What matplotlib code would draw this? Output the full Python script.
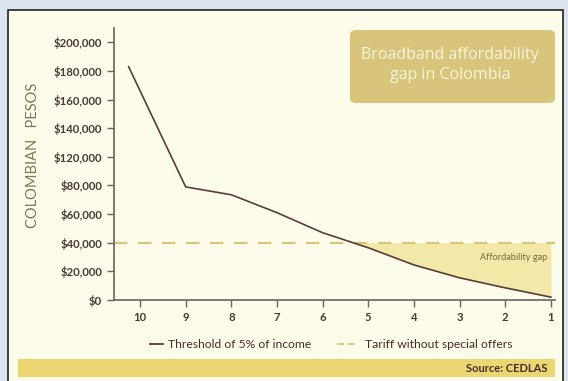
import matplotlib
matplotlib.use("Agg")
import matplotlib.pyplot as plt
from matplotlib.patches import Rectangle, FancyBboxPatch

# === Data ===
decile = [10.25, 9, 8, 7, 6, 5, 4, 3, 2, 1]
threshold = [163000, 79000, 73500, 61000, 47000, 36500, 24500, 15500, 8500, 2000]
tariff = 40000
x_ticks = [10, 9, 8, 7, 6, 5, 4, 3, 2, 1]
y_ticks = [0, 20000, 40000, 60000, 80000, 100000, 120000, 140000, 160000, 180000]
y_labels = ["$0", "$20,000", "$40,000", "$60,000", "$80,000", "$120,000",
            "$140,000", "$160,000", "$180,000", "$200,000"]

# === Colours ===
bg_outer = "#dce4ee"
bg_panel = "#fdfbea"
brown = "#5b3b3a"
axis_col = "#6e605a"
tan = "#d8c47a"
gap_fill = "#f2e9a8"
source_bar = "#ebd772"

plt.rcParams['font.family'] = ['Lato', 'DejaVu Sans']

fig = plt.figure(figsize=(5.68, 3.81), dpi=100)
fig.patch.set_facecolor(bg_outer)

W, H = 568, 381
def fx(px):
    return px / W
def fy(py):
    return 1 - py / H

# panel
fig.patches.append(Rectangle((fx(8), fy(390)), fx(563) - fx(8), fy(10) - fy(390),
                             transform=fig.transFigure, facecolor=bg_panel,
                             edgecolor="#222222", linewidth=1.2, zorder=0))
# source bar
fig.patches.append(Rectangle((fx(18), fy(377)), fx(555) - fx(18), fy(359) - fy(377),
                             transform=fig.transFigure, facecolor=source_bar,
                             edgecolor="none", zorder=1))
fig.text(fx(548), fy(368), "Source: CEDLAS", ha="right", va="center",
         fontsize=8, fontweight="bold", color="#4a2a2a")

ax = fig.add_axes([fx(114), fy(300), fx(555) - fx(114), fy(28) - fy(300)])
ax.set_facecolor("none")
ax.set_zorder(5)

ax.fill_between(decile, threshold, tariff,
                where=[t <= tariff for t in threshold], interpolate=True,
                color=gap_fill, linewidth=0, zorder=1)
ax.axhline(tariff, color=tan, linestyle=(0, (6, 4.8)), linewidth=1.6, zorder=2)
ax.plot(decile, threshold, color=brown, linewidth=1.2, zorder=3)

ax.set_xlim(10.57, 0.91)
ax.set_ylim(0, 190000)
ax.set_xticks(x_ticks)
ax.set_xticklabels([str(v) for v in x_ticks])
ax.set_yticks(y_ticks)
ax.set_yticklabels(y_labels)
ax.tick_params(axis="both", colors=axis_col, labelcolor="#4a3a36",
               labelsize=8.2, length=5, width=1)
for lab in ax.get_xticklabels() + ax.get_yticklabels():
    lab.set_fontweight("bold")
for side in ["top", "right"]:
    ax.spines[side].set_visible(False)
for side in ["left", "bottom"]:
    ax.spines[side].set_color(axis_col)
    ax.spines[side].set_linewidth(1.2)

ax.text(1.08, 29500, "Affordability gap", ha="right", va="center",
        fontsize=6.6, color="#7a6640")

fig.text(fx(33), fy(155), "COLOMBIAN   PESOS", rotation=90, ha="center",
         va="center", fontsize=10.5, color="#7e7856")

# title box
fig.patches.append(FancyBboxPatch((fx(350), fy(103)), fx(555) - fx(350), fy(30) - fy(103),
                                  boxstyle="round,pad=0,rounding_size=0.012",
                                  transform=fig.transFigure, facecolor=tan,
                                  edgecolor="none", zorder=2))
fig.text(fx(450), fy(65), "Broadband affordability\ngap in Colombia", ha="center",
         va="center", fontsize=11.5, color="#fbf5dc", linespacing=1.3,
         family=["Open Sans", "DejaVu Sans"], zorder=3)

# legend
fig.lines.append(plt.Line2D([fx(150), fx(163)], [fy(344), fy(344)],
                            transform=fig.transFigure, color=brown, linewidth=1.3))
fig.text(fx(168), fy(344), "Threshold of 5% of income", ha="left", va="center",
         fontsize=8.7, color="#4a2a2a")
fig.lines.append(plt.Line2D([fx(337), fx(357)], [fy(344), fy(344)],
                            transform=fig.transFigure, color=tan, linewidth=1.3,
                            linestyle=(0, (4, 2))))
fig.text(fx(365), fy(344), "Tariff without special offers", ha="left", va="center",
         fontsize=8.7, color="#4a2a2a")

fig.savefig("out.png", dpi=100, facecolor=fig.get_facecolor())
